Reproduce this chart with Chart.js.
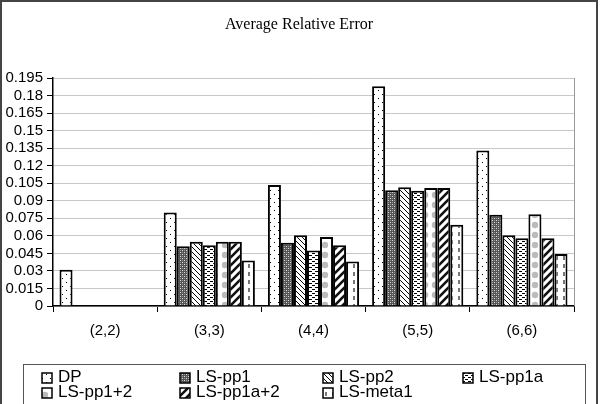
<!DOCTYPE html>
<html>
<head>
<meta charset="utf-8">
<script src="https://cdn.jsdelivr.net/npm/chart.js@4"></script>
<style>
  html, body { margin: 0; padding: 0; background: #fff; }
  #wrap { width: 600px; height: 404px; }
</style>
</head>
<body>
<div id="wrap"><canvas id="myChart" width="600" height="404"></canvas></div>
<script>
// data
var groups = ['(2,2)', '(3,3)', '(4,4)', '(5,5)', '(6,6)'];
var seriesNames = ['DP', 'LS-pp1', 'LS-pp2', 'LS-pp1a', 'LS-pp1+2', 'LS-pp1a+2', 'LS-meta1'];
var dp       = [0.031, 0.080, 0.1035, 0.188, 0.133];
var lsPp1    = [0, 0.051, 0.054, 0.099, 0.078];
var lsPp2    = [0, 0.055, 0.0605, 0.1015, 0.0605];
var lsPp1a   = [0, 0.052, 0.0475, 0.0985, 0.058];
var lsPp12   = [0, 0.055, 0.059, 0.101, 0.0785];
var lsPp1a2  = [0, 0.055, 0.052, 0.101, 0.058];
var lsMeta1  = [0, 0.039, 0.038, 0.0695, 0.0445];
var yTicks = [0, 0.015, 0.03, 0.045, 0.06, 0.075, 0.09, 0.105, 0.12, 0.135, 0.15, 0.165, 0.18, 0.195];

// fill patterns, one per series
function makeTile(w, h, draw) {
    var c = document.createElement('canvas');
    c.width = w; c.height = h;
    var g = c.getContext('2d');
    g.fillStyle = '#fff';
    g.fillRect(0, 0, w, h);
    draw(g, w, h);
    return document.createElement('canvas').getContext('2d').createPattern(c, 'repeat');
}

var patterns = [
    makeTile(8, 8, function (g) {            // DP: sparse dots
        g.fillStyle = '#000';
        g.fillRect(2, 2, 1, 1);
        g.fillRect(6, 6, 1, 1);
    }),
    makeTile(4, 4, function (g) {            // LS-pp1: dense grey mesh
        g.fillStyle = '#555';
        g.fillRect(0, 0, 4, 4);
        g.fillStyle = '#ddd';
        g.fillRect(0, 0, 1, 1);
        g.fillRect(2, 2, 1, 1);
        g.fillStyle = '#999';
        g.fillRect(2, 0, 1, 1);
        g.fillRect(0, 2, 1, 1);
    }),
    makeTile(5, 5, function (g) {            // LS-pp2: thin back diagonals
        g.fillStyle = '#000';
        for (var i = 0; i < 5; i++) g.fillRect(i, i, 1, 1);
    }),
    makeTile(6, 4, function (g) {            // LS-pp1a: short dashes
        g.fillStyle = '#000';
        g.fillRect(0, 1, 3, 1);
        g.fillRect(3, 3, 3, 1);
    }),
    makeTile(10, 10, function (g) {          // LS-pp1+2: grey blobs
        g.fillStyle = '#bbb';
        g.beginPath();
        g.arc(5, 5, 3.2, 0, Math.PI * 2);
        g.fill();
    }),
    makeTile(8, 8, function (g) {            // LS-pp1a+2: thick forward diagonals
        g.strokeStyle = '#111';
        g.lineWidth = 2.6;
        g.beginPath();
        g.moveTo(-2, 10); g.lineTo(10, -2);
        g.moveTo(-6, 6); g.lineTo(6, -6);
        g.moveTo(2, 14); g.lineTo(14, 2);
        g.stroke();
    }),
    makeTile(7, 8, function (g) {            // LS-meta1: vertical dashes
        g.fillStyle = '#777';
        g.fillRect(3, 0, 2, 4);
    })
];

var seriesValues = [dp, lsPp1, lsPp2, lsPp1a, lsPp12, lsPp1a2, lsMeta1];

var datasets = seriesNames.map(function (name, i) {
    return {
        label: name,
        data: seriesValues[i],
        backgroundColor: patterns[i],
        borderColor: '#000',
        borderWidth: 2,
        barPercentage: 1.0,
        categoryPercentage: 0.875
    };
});

// title, frame, plot border and legend box drawn by hand
var decor = {
    id: 'decor',
    beforeDraw: function (chart) {
        var c = chart.ctx;
        c.save();
        c.fillStyle = '#fff';
        c.fillRect(0, 0, chart.width, chart.height);
        c.restore();
    },
    afterDraw: function (chart) {
        var c = chart.ctx;
        var a = chart.chartArea;
        c.save();
        // plot area right edge
        c.strokeStyle = '#999';
        c.lineWidth = 1;
        c.beginPath();
        c.moveTo(a.right + 0.5, a.top);
        c.lineTo(a.right + 0.5, a.bottom);
        c.stroke();

        // title
        c.fillStyle = '#000';
        c.font = '16px "Liberation Serif", "Times New Roman", serif';
        c.textAlign = 'center';
        c.textBaseline = 'alphabetic';
        c.fillText('Average Relative Error', 299, 29);

        // legend box
        c.strokeStyle = '#555';
        c.lineWidth = 1;
        c.strokeRect(23.5, 364.5, 562, 42);

        var cols = [42, 180, 323, 463];
        var rows = [382, 397];   // baselines
        c.font = '17px "Liberation Sans", Arial, sans-serif';
        c.textAlign = 'left';
        seriesNames.forEach(function (name, i) {
            var x = cols[i % 4], y = rows[Math.floor(i / 4)];
            c.fillStyle = patterns[i];
            c.fillRect(x, y - 9, 10, 10);
            c.strokeStyle = '#000';
            c.lineWidth = 1.5;
            c.strokeRect(x, y - 9, 10, 10);
            c.fillStyle = '#000';
            c.fillText(name, x + 16, y);
        });

        // outer frame
        c.strokeStyle = '#444';
        c.lineWidth = 2;
        c.strokeRect(1, 1, 596, 404);
        c.restore();
    }
};

var ctx = document.getElementById('myChart').getContext('2d');
var myChart = new Chart(ctx, {
    type: 'bar',
    data: { labels: groups, datasets: datasets },
    options: {
        responsive: false,
        animation: false,
        layout: { padding: { top: 78, right: 26, left: 0, bottom: 0 } },
        plugins: {
            legend: { display: false },
            title: { display: false },
            tooltip: { enabled: false }
        },
        scales: {
            x: {
                grid: {
                    offset: true,
                    drawOnChartArea: false,
                    tickLength: 6,
                    tickColor: '#000'
                },
                border: { color: '#000', width: 1.5 },
                ticks: {
                    color: '#000',
                    padding: 10,
                    font: { family: '"Liberation Sans", Arial, sans-serif', size: 15 }
                },
                afterFit: function (scale) { scale.height = 98; }
            },
            y: {
                min: 0,
                max: 0.195,
                afterBuildTicks: function (scale) {
                    scale.ticks = yTicks.map(function (v) { return { value: v }; });
                },
                grid: {
                    color: '#c8c8c8',
                    tickColor: '#000',
                    tickLength: 6
                },
                border: { color: '#000', width: 1.5 },
                ticks: {
                    color: '#000',
                    padding: 4,
                    autoSkip: false,
                    font: { family: '"Liberation Sans", Arial, sans-serif', size: 15 },
                    callback: function (v) { return String(+Number(v).toFixed(3)); }
                },
                afterFit: function (scale) { scale.width = 53; }
            }
        }
    },
    plugins: [decor]
});
</script>
</body>
</html>
